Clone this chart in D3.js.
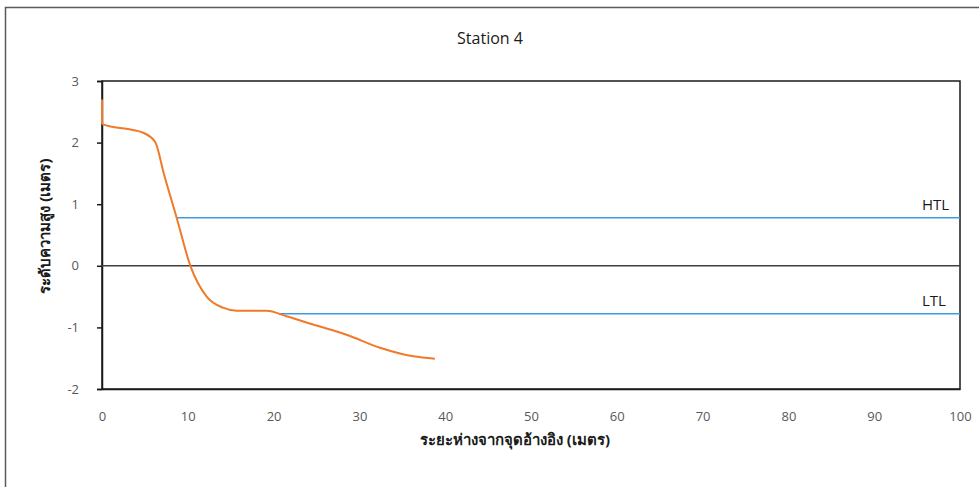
<!DOCTYPE html>
<html><head><meta charset="utf-8">
<script src="https://cdn.jsdelivr.net/npm/d3@7"></script>
<style>
body{margin:0;background:#fff;}
text{font-family:"Open Sans","Noto Sans",sans-serif;}
</style></head><body>
<svg id="c" width="979" height="487"></svg>
<script>
const title = "Station 4";
const xTitle = "ระยะห่างจากจุดอ้างอิง (เมตร)";
const yTitle = "ระดับความสูง (เมตร)";
const xTicks = [0,10,20,30,40,50,60,70,80,90,100];
const yTicks = [-2,-1,0,1,2,3];
const profileX = [0, 0, 1, 3, 4.8, 6.2, 7.2, 8.7, 10.3, 12.2, 14.1, 15.7, 19.2, 21.5, 25, 28.5, 32.4, 36.3, 38.8];
const profileY = [2.7, 2.3, 2.26, 2.22, 2.16, 2.01, 1.5, 0.78, 0, -0.5, -0.68, -0.73, -0.73, -0.82, -0.97, -1.12, -1.33, -1.47, -1.51];
const tideNames = ["HTL","LTL"];
const tideLevels = [0.78, -0.78];
const tideStart = [8.7, 20.7];
const tideEnd = [100, 100];

const svg = d3.select("#c");
const m = {l:102, r:960, t:81, b:389};
const x = d3.scaleLinear().domain([0,100]).range([m.l,m.r]);
const y = d3.scaleLinear().domain([-2,3]).range([m.b,m.t]);

// outer frame
svg.append("rect").attr("x",5.5).attr("y",7.5).attr("width",980).attr("height",490)
  .attr("fill","none").attr("stroke","#5a5a5a").attr("stroke-width",1.5);

svg.append("text").attr("x",490).attr("y",44).attr("text-anchor","middle")
  .attr("font-size",16).attr("fill","#1a1a1a").text(title);

// plot border
svg.append("rect").attr("x",m.l).attr("y",m.t).attr("width",m.r-m.l).attr("height",m.b-m.t)
  .attr("fill","none").attr("stroke","#1a1a1a").attr("stroke-width",1.5);

const fmt = d => String(d);
// y axis
const ya = svg.append("g").attr("transform",`translate(${m.l},0)`)
  .call(d3.axisLeft(y).tickValues(yTicks).tickSize(5).tickPadding(18).tickFormat(fmt));
ya.select(".domain").attr("stroke","#1a1a1a").attr("stroke-width",1.5);
ya.selectAll(".tick line").attr("stroke","#1a1a1a").attr("stroke-width",1.5);
ya.selectAll(".tick text").attr("font-size",13).attr("fill","#595959").attr("font-family","Open Sans, sans-serif");

// x axis
const xa = svg.append("g").attr("transform",`translate(0,${m.b})`)
  .call(d3.axisBottom(x).tickValues(xTicks).tickSize(0).tickPadding(23).tickFormat(fmt));
xa.select(".domain").attr("stroke","#1a1a1a").attr("stroke-width",1.5);
xa.selectAll(".tick text").attr("font-size",13).attr("fill","#595959").attr("font-family","Open Sans, sans-serif");

// zero line
svg.append("line").attr("x1",x(0)).attr("x2",x(100)).attr("y1",y(0)).attr("y2",y(0))
  .attr("stroke","#404040").attr("stroke-width",1.5);

// tide lines
tideNames.forEach((n,i)=>{
  svg.append("line").attr("x1",x(tideStart[i])).attr("x2",x(tideEnd[i]))
    .attr("y1",y(tideLevels[i])).attr("y2",y(tideLevels[i]))
    .attr("stroke","#3d9be0").attr("stroke-width",1.5);
  svg.append("text").attr("x",922).attr("y",y(tideLevels[i])-8).attr("text-anchor","start")
    .attr("font-size",15).attr("fill","#1a1a1a").text(n);
});

// profile: vertical start segment, then smooth curve
const pts = profileX.map((d,i)=>[d,profileY[i]]);
const lineLin = d3.line().x(d=>x(d[0])).y(d=>y(d[1]));
const lineSmooth = d3.line().x(d=>x(d[0])).y(d=>y(d[1])).curve(d3.curveMonotoneX);
svg.append("path").datum(pts.slice(0,2)).attr("d",lineLin)
  .attr("fill","none").attr("stroke","#f07a2a").attr("stroke-width",2);
svg.append("path").datum(pts.slice(1))
  .attr("d",lineSmooth)
  .attr("fill","none").attr("stroke","#f07a2a").attr("stroke-width",2);

// axis titles
svg.append("text").attr("x",515).attr("y",445).attr("text-anchor","middle")
  .attr("font-size",15).attr("font-weight","bold").attr("fill","#1a1a1a").text(xTitle);
svg.append("text").attr("transform","translate(50,226) rotate(-90)").attr("text-anchor","middle")
  .attr("font-size",15).attr("font-weight","bold").attr("fill","#1a1a1a").text(yTitle);
</script>
</body></html>
